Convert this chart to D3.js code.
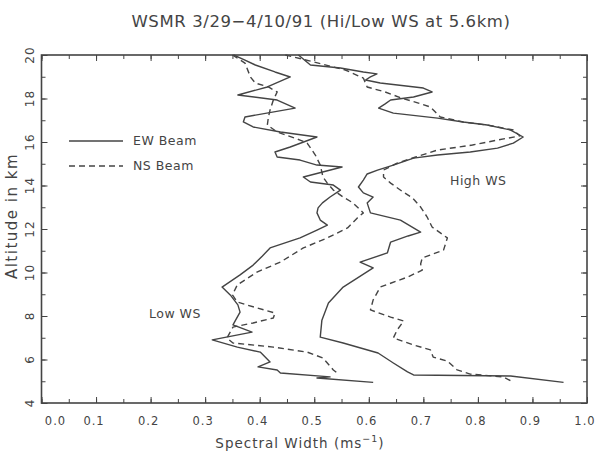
<!DOCTYPE html>
<html>
<head>
<meta charset="utf-8">
<script src="https://cdn.jsdelivr.net/npm/d3@7"></script>
<style>
  body { margin: 0; background: #fff; }
  text { font-family: "DejaVu Sans", sans-serif; fill: #444; }
</style>
</head>
<body>
<div id="chart"></div>
<script>
  // altitude (km) and spectral width (m/s)
  var lowEWAlt = [20.0, 19.8, 19.54, 19.22, 18.99, 18.53, 18.16, 17.93, 17.56, 17.15, 16.92, 16.69, 16.46, 16.23, 15.77, 15.54, 15.31, 15.17, 14.94, 14.85, 14.39, 14.16, 14.02, 13.79, 13.47, 13.2, 12.97, 12.74, 12.41, 12.18, 11.95, 11.59, 11.13, 10.76, 10.34, 9.89, 9.33, 8.97, 8.51, 8.18, 7.59, 7.26, 6.9, 6.57, 6.34, 5.89, 5.66, 5.52, 5.38, 5.2, 5.15, 4.95];
  var lowEWWidth = [0.352, 0.37, 0.392, 0.428, 0.456, 0.414, 0.36, 0.432, 0.465, 0.373, 0.37, 0.388, 0.438, 0.505, 0.456, 0.428, 0.432, 0.474, 0.505, 0.551, 0.48, 0.493, 0.535, 0.548, 0.529, 0.515, 0.507, 0.505, 0.511, 0.524, 0.505, 0.474, 0.419, 0.405, 0.388, 0.364, 0.331, 0.346, 0.36, 0.364, 0.351, 0.386, 0.313, 0.359, 0.401, 0.419, 0.397, 0.432, 0.438, 0.529, 0.505, 0.608];

  var lowNSAlt = [20.0, 19.63, 18.99, 18.71, 18.53, 18.3, 17.93, 17.47, 17.15, 16.78, 16.46, 16.09, 15.95, 15.4, 14.94, 14.39, 14.11, 13.79, 13.47, 13.2, 12.74, 12.51, 12.05, 11.59, 11.13, 10.48, 10.02, 9.43, 8.97, 8.64, 8.37, 8.14, 7.91, 7.68, 7.49, 6.99, 6.76, 6.57, 6.34, 6.07, 5.52, 5.38];
  var lowNSWidth = [0.35, 0.373, 0.383, 0.392, 0.416, 0.432, 0.425, 0.419, 0.416, 0.414, 0.432, 0.474, 0.487, 0.502, 0.511, 0.516, 0.524, 0.535, 0.553, 0.571, 0.59, 0.579, 0.561, 0.524, 0.48, 0.438, 0.395, 0.359, 0.35, 0.359, 0.395, 0.428, 0.425, 0.388, 0.351, 0.34, 0.351, 0.425, 0.487, 0.516, 0.535, 0.542];

  var highEWAlt = [20.0, 19.54, 19.4, 19.22, 19.13, 18.99, 18.85, 18.71, 18.48, 18.3, 18.07, 17.93, 17.75, 17.56, 17.33, 17.1, 16.92, 16.78, 16.55, 16.23, 15.95, 15.72, 15.54, 15.4, 15.26, 14.94, 14.71, 14.53, 14.25, 13.93, 13.66, 13.47, 13.2, 12.74, 12.41, 11.86, 11.68, 11.4, 10.9, 10.48, 10.21, 9.33, 8.6, 7.81, 7.03, 6.76, 6.3, 5.84, 5.43, 5.29, 5.24, 4.95];
  var highEWWidth = [0.471, 0.493, 0.548, 0.59, 0.615, 0.603, 0.594, 0.621, 0.7, 0.716, 0.682, 0.64, 0.63, 0.618, 0.645, 0.726, 0.773, 0.817, 0.86, 0.883, 0.865, 0.836, 0.786, 0.726, 0.682, 0.645, 0.616, 0.597, 0.59, 0.581, 0.59, 0.608, 0.597, 0.603, 0.658, 0.695, 0.672, 0.64, 0.634, 0.584, 0.608, 0.553, 0.526, 0.514, 0.511, 0.553, 0.617, 0.645, 0.671, 0.682, 0.86, 0.957];

  var highNSAlt = [20.0, 19.72, 19.31, 18.94, 18.53, 18.3, 18.02, 17.79, 17.61, 17.38, 17.15, 16.92, 16.78, 16.55, 16.28, 16.09, 15.86, 15.63, 15.31, 15.03, 14.71, 14.39, 14.11, 13.7, 13.43, 13.01, 12.55, 12.09, 11.59, 11.03, 10.67, 10.39, 10.11, 9.79, 9.33, 8.74, 8.28, 7.95, 7.77, 7.36, 6.99, 6.67, 6.44, 6.11, 5.93, 5.52, 5.33, 5.2, 4.95];
  var highNSWidth = [0.447, 0.493, 0.557, 0.59, 0.597, 0.63, 0.66, 0.691, 0.713, 0.722, 0.731, 0.773, 0.817, 0.865, 0.877, 0.836, 0.79, 0.726, 0.686, 0.652, 0.627, 0.627, 0.64, 0.663, 0.68, 0.695, 0.707, 0.716, 0.744, 0.737, 0.698, 0.695, 0.698, 0.671, 0.621, 0.608, 0.603, 0.64, 0.664, 0.652, 0.645, 0.682, 0.713, 0.718, 0.744, 0.762, 0.786, 0.847, 0.865];

  var xTicks = [0, 0.1, 0.2, 0.3, 0.4, 0.5, 0.6, 0.7, 0.8, 0.9, 1.0];
  var yTicks = [4, 6, 8, 10, 12, 14, 16, 18, 20];

  var width = 599, height = 454;
  var margin = {top: 55, right: 12, bottom: 51, left: 41.5};

  var svg = d3.select('#chart').append('svg')
    .attr('width', width)
    .attr('height', height);

  var x = d3.scaleLinear().domain([0, 1]).range([margin.left, width - margin.right]);
  var y = d3.scaleLinear().domain([4, 20]).range([height - margin.bottom, margin.top]);

  var axisColor = '#444';

  // tick marks, all pointing into the frame
  function tickAxis(axis, transform) {
    var g = svg.append('g').attr('transform', transform).call(axis);
    g.select('.domain').remove();
    g.selectAll('.tick line').attr('stroke', axisColor).attr('stroke-width', 1);
    g.selectAll('.tick text').remove();
    return g;
  }

  var xMinor = d3.range(0, 1.0001, 0.05);
  var yMinor = d3.range(4, 20.0001, 1);

  tickAxis(d3.axisTop(x).tickValues(xMinor).tickSize(4), 'translate(0,' + y(4) + ')');
  tickAxis(d3.axisTop(x).tickValues(xTicks).tickSize(6), 'translate(0,' + y(4) + ')');
  tickAxis(d3.axisBottom(x).tickValues(xMinor).tickSize(4), 'translate(0,' + y(20) + ')');
  tickAxis(d3.axisBottom(x).tickValues(xTicks).tickSize(6), 'translate(0,' + y(20) + ')');
  tickAxis(d3.axisRight(y).tickValues(yMinor).tickSize(4), 'translate(' + x(0) + ',0)');
  tickAxis(d3.axisRight(y).tickValues(yTicks).tickSize(6), 'translate(' + x(0) + ',0)');
  tickAxis(d3.axisLeft(y).tickValues(yMinor).tickSize(4), 'translate(' + x(1) + ',0)');
  tickAxis(d3.axisLeft(y).tickValues(yTicks).tickSize(6), 'translate(' + x(1) + ',0)');

  // frame
  svg.append('rect')
    .attr('x', x(0)).attr('y', y(20))
    .attr('width', x(1) - x(0)).attr('height', y(4) - y(20))
    .attr('fill', 'none')
    .attr('stroke', axisColor)
    .attr('stroke-width', 1.6);

  // x tick labels
  svg.selectAll('.xlab').data(xTicks).enter().append('text')
    .attr('class', 'xlab')
    .attr('x', function (d, i) { return x(d) + (i == 0 ? 14 : -2); })
    .attr('y', 425)
    .attr('text-anchor', 'middle')
    .style('font-size', '11.5px')
    .style('letter-spacing', '1px')
    .text(function (d) { return d.toFixed(1); });

  // y tick labels, rotated
  svg.selectAll('.ylab').data(yTicks).enter().append('text')
    .attr('class', 'ylab')
    .attr('transform', function (d) { return 'translate(34,' + y(d) + ') rotate(-90)'; })
    .attr('text-anchor', 'middle')
    .style('font-size', '12px')
    .style('letter-spacing', '1px')
    .text(function (d) { return d; });

  // title and axis titles
  svg.append('text')
    .attr('x', 321).attr('y', 27)
    .attr('text-anchor', 'middle')
    .style('font-size', '16.5px')
    .style('letter-spacing', '0.6px')
    .text('WSMR 3/29\u22124/10/91 (Hi/Low WS at 5.6km)');

  var xt = svg.append('text')
    .attr('x', 300).attr('y', 448)
    .attr('text-anchor', 'middle')
    .style('font-size', '13.5px')
    .style('letter-spacing', '1px');
  xt.append('tspan').text('Spectral Width (ms');
  xt.append('tspan').attr('dy', -6).style('font-size', '9.5px').text('\u22121');
  xt.append('tspan').attr('dy', 6).text(')');

  svg.append('text')
    .attr('transform', 'translate(17,216) rotate(-90)')
    .attr('text-anchor', 'middle')
    .style('font-size', '15px')
    .style('letter-spacing', '1.5px')
    .text('Altitude in km');

  // curves
  var line = d3.line()
    .x(function (d) { return x(d[1]); })
    .y(function (d) { return y(d[0]); });

  var series = [
    {alt: lowEWAlt, w: lowEWWidth, dash: null},
    {alt: lowNSAlt, w: lowNSWidth, dash: '6,4'},
    {alt: highEWAlt, w: highEWWidth, dash: null},
    {alt: highNSAlt, w: highNSWidth, dash: '6,4'}
  ];

  series.forEach(function (s) {
    var pts = s.alt.map(function (a, i) { return [a, s.w[i]]; });
    svg.append('path')
      .datum(pts)
      .attr('d', line)
      .attr('fill', 'none')
      .attr('stroke', '#444')
      .attr('stroke-width', 1.4)
      .attr('stroke-linejoin', 'round')
      .attr('stroke-dasharray', s.dash);
  });

  // legend
  var legend = [
    {label: 'EW Beam', dash: null, y: 141},
    {label: 'NS Beam', dash: '6,4', y: 166}
  ];
  legend.forEach(function (l) {
    svg.append('line')
      .attr('x1', 69).attr('x2', 123)
      .attr('y1', l.y).attr('y2', l.y)
      .attr('stroke', '#444')
      .attr('stroke-width', 1.3)
      .attr('stroke-dasharray', l.dash);
    svg.append('text')
      .attr('x', 133).attr('y', l.y + 4)
      .style('font-size', '12.5px')
      .style('letter-spacing', '0.5px')
      .text(l.label);
  });

  svg.append('text')
    .attr('x', 149).attr('y', 318)
    .style('font-size', '12.5px')
    .style('letter-spacing', '0.5px')
    .text('Low WS');

  svg.append('text')
    .attr('x', 450).attr('y', 185)
    .style('font-size', '12.5px')
    .style('letter-spacing', '0.5px')
    .text('High WS');
</script>
</body>
</html>
